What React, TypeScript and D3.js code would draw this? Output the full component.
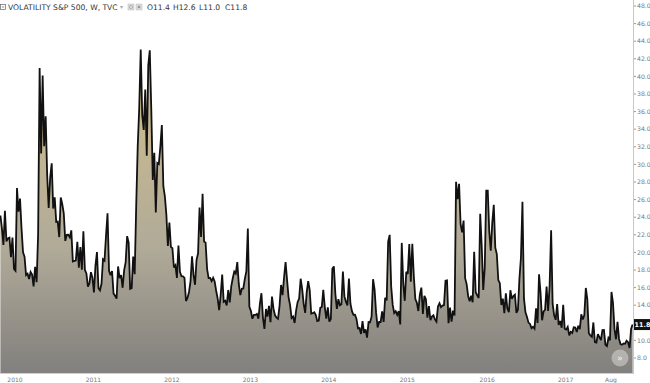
import React from "react";
import * as d3 from "d3";

// Weekly closes of the CBOE Volatility Index
const v2009 = [24.19, 22.73, 20.85, 24.74, 21.25, 21.59, 21.68, 19.47, 21.68];
const v2010 = [18.13, 17.91, 27.31, 24.62, 26.11, 22.73, 20.02, 19.5, 17.42, 17.58, 16.97, 17.77, 17.47, 16.14, 18.36, 16.62, 22.05, 40.95, 31.24, 40.1, 32.07, 35.48, 28.79, 25.05, 28.53, 30.12, 24.98, 26.25, 23.47, 23.5, 21.74, 26.24, 25.49, 24.45, 21.31, 21.99, 22.01, 21.71, 22.5, 18.96, 19.03, 19.08, 21.2, 18.26, 20.61, 18.04, 22.4, 18.01, 17.61, 16.11, 16.47, 17.75];
const v2011 = [17.14, 15.46, 18.47, 20.04, 15.93, 15.69, 16.43, 19.22, 19.06, 21.88, 24.44, 17.91, 17.4, 17.87, 15.32, 15.07, 14.75, 18.4, 17.07, 17.43, 15.98, 17.95, 18.86, 21.85, 21.1, 15.87, 15.95, 19.53, 17.52, 25.25, 32.0, 36.36, 43.05, 35.59, 33.92, 38.52, 30.98, 41.25, 42.96, 36.27, 28.24, 31.32, 24.53, 30.16, 30.04, 32.0, 34.47, 27.52, 26.38, 24.29, 20.73, 23.4];
const v2012 = [20.63, 20.47, 18.28, 18.53, 17.1, 20.79, 17.78, 17.31, 17.29, 17.11, 14.47, 14.82, 15.5, 16.7, 19.55, 17.44, 16.32, 19.16, 19.89, 25.1, 21.76, 26.66, 21.23, 21.11, 18.11, 17.08, 17.1, 16.74, 17.11, 16.7, 15.64, 14.74, 13.45, 15.18, 17.47, 14.38, 14.51, 13.98, 15.73, 14.33, 16.14, 17.06, 17.81, 17.59, 18.9, 16.41, 15.14, 15.87, 15.9, 17.0, 17.84, 22.72];
const v2013 = [13.83, 13.36, 12.46, 12.89, 12.9, 13.02, 12.46, 14.17, 15.36, 12.59, 11.3, 13.57, 12.7, 13.92, 12.06, 14.97, 13.61, 12.85, 12.59, 12.45, 13.92, 16.3, 15.14, 17.15, 18.9, 16.86, 14.89, 14.01, 12.54, 12.72, 11.98, 13.41, 14.37, 14.76, 17.01, 15.85, 14.16, 13.12, 15.46, 16.74, 15.72, 13.04, 13.09, 13.19, 12.9, 12.19, 12.26, 13.7, 13.79, 15.76, 13.79, 12.46];
const v2014 = [13.76, 12.14, 12.44, 18.14, 18.41, 15.29, 13.57, 14.68, 14.0, 14.11, 17.82, 15.0, 14.41, 13.96, 17.03, 14.17, 13.32, 12.91, 12.92, 12.44, 11.36, 11.4, 10.73, 12.18, 10.85, 11.26, 10.32, 12.08, 12.06, 12.69, 16.95, 15.77, 13.15, 11.47, 12.09, 12.09, 13.31, 12.11, 14.85, 14.55, 21.24, 21.99, 16.11, 14.03, 13.12, 13.31, 12.9, 13.33, 11.82, 21.08, 16.49, 14.5];
const v2015 = [17.79, 17.55, 20.95, 16.66, 20.97, 17.29, 14.69, 14.3, 13.34, 15.2, 16.0, 13.02, 15.07, 14.67, 12.58, 13.89, 12.29, 12.7, 12.86, 12.38, 12.13, 13.84, 14.21, 13.78, 13.96, 14.02, 16.79, 16.83, 11.95, 13.74, 12.12, 13.39, 12.83, 28.03, 26.05, 27.8, 23.2, 22.28, 23.62, 17.08, 16.4, 15.05, 14.46, 15.07, 14.33, 20.08, 15.47, 15.12, 14.81, 24.39, 20.7, 15.74, 18.21];
const v2016 = [27.01, 27.02, 22.34, 20.2, 23.38, 25.4, 20.53, 19.81, 16.86, 16.5, 14.02, 14.74, 13.1, 15.36, 13.62, 13.22, 15.7, 14.72, 15.04, 15.2, 13.12, 13.47, 17.03, 19.41, 25.76, 14.77, 13.2, 12.67, 12.02, 11.87, 11.39, 11.55, 11.34, 13.65, 11.98, 17.5, 15.37, 12.29, 13.29, 13.48, 16.12, 13.34, 16.19, 22.51, 14.17, 12.85, 12.34, 14.12, 11.75, 12.2, 11.44, 14.04];
const v2017 = [11.32, 11.23, 11.54, 10.58, 10.97, 10.85, 11.49, 11.47, 10.96, 11.66, 11.28, 12.96, 12.37, 12.87, 15.96, 14.63, 10.82, 10.57, 10.4, 12.04, 9.81, 9.75, 10.7, 10.38, 10.02, 11.18, 11.19, 9.51, 9.36, 10.29, 10.03, 15.51, 14.26, 11.28, 10.13, 12.12, 10.17, 9.59, 9.51, 9.65, 9.61, 9.97, 9.8, 9.14, 11.29, 11.8];

const yearBlocks = [v2009, v2010, v2011, v2012, v2013, v2014, v2015, v2016, v2017];
const yearLabels = ["", "2010", "2011", "2012", "2013", "2014", "2015", "2016", "2017"];
const monthLabel = "Aug";
const monthIndexIn2017 = 30;
const yTicks = d3.range(8, 48.01, 2);
const titleText = "VOLATILITY S&P 500, W, TVC";
const ohlc = [
  { k: "O", v: "11.4" },
  { k: "H", v: "12.6" },
  { k: "L", v: "11.0" },
  { k: "C", v: "11.8" },
];
const lastValue = 11.8;

const W = 650;
const H = 383;
const AXIS_X = 633;
const PLOT_BOTTOM = 373;

export default function App() {
  const values: number[] = ([] as number[]).concat(...yearBlocks);
  const starts: number[] = [];
  let acc = 0;
  yearBlocks.forEach((b) => {
    starts.push(acc);
    acc += b.length;
  });

  const x = d3.scaleLinear().domain([0, values.length - 1]).range([0.4, 632.6]);
  const y = d3.scaleLinear().domain([48, 8]).range([6, 358]);

  const area = d3
    .area<number>()
    .x((_, i) => x(i))
    .y0(PLOT_BOTTOM)
    .y1((d) => y(d));
  const line = d3
    .line<number>()
    .x((_, i) => x(i))
    .y((d) => y(d));

  const fmt = d3.format(".1f");
  const axisFont = "'DejaVu Sans', Verdana, sans-serif";

  const xLabels = yearLabels
    .map((t, k) => ({ t, i: starts[k] }))
    .filter((d) => d.t !== "");
  xLabels.push({ t: monthLabel, i: starts[8] + monthIndexIn2017 });

  // tick labels hidden under the last-value badge
  const visibleTicks = yTicks.filter((t) => Math.abs(y(t) - y(lastValue)) > 8);

  return (
    <svg
      width={W}
      height={H}
      style={{ position: "absolute", left: 0, top: 0, background: "#fff" }}
    >
      <defs>
        <linearGradient id="fillGrad" gradientUnits="userSpaceOnUse" x1="0" y1="45" x2="0" y2={PLOT_BOTTOM}>
          <stop offset="0" stopColor="rgb(212,193,140)" />
          <stop offset="0.62" stopColor="rgb(176,170,152)" />
          <stop offset="1" stopColor="rgb(130,128,126)" />
        </linearGradient>
      </defs>

      <path d={area(values) || ""} fill="url(#fillGrad)" />
      <path
        d={line(values) || ""}
        fill="none"
        stroke="#111"
        strokeWidth={1.8}
        strokeLinejoin="miter"
        strokeMiterlimit={3}
      />

      {/* axes lines */}
      <line x1={0} x2={AXIS_X} y1={PLOT_BOTTOM + 0.5} y2={PLOT_BOTTOM + 0.5} stroke="#cfcfcf" strokeWidth={1} />
      <line x1={AXIS_X + 0.5} x2={AXIS_X + 0.5} y1={0} y2={PLOT_BOTTOM + 1} stroke="#c8c8c8" strokeWidth={1} />

      {/* right axis ticks */}
      {yTicks.map((t) => (
        <line key={"t" + t} x1={AXIS_X + 1} x2={AXIS_X + 3} y1={y(t)} y2={y(t)} stroke="#999" />
      ))}
      {visibleTicks.map((t) => (
        <text key={"l" + t} x={AXIS_X + 4} y={y(t)} dy="0.35em" fontSize={6.2} fontFamily={axisFont} fill="#777">
          {fmt(t)}
        </text>
      ))}

      {/* last value label */}
      <g transform={`translate(${AXIS_X + 1},${y(lastValue)})`}>
        <rect x={0} y={-5.5} width={17} height={11} fill="#111" />
        <text x={8.5} y={0} dy="0.35em" textAnchor="middle" fontSize={6.4} fontWeight="bold" fontFamily={axisFont} fill="#fff">
          {fmt(lastValue)}
        </text>
      </g>

      {/* bottom labels */}
      {xLabels.map((d) => (
        <text
          key={d.t}
          x={x(d.i) + 1}
          y={380}
          dy="0.35em"
          textAnchor="middle"
          fontSize={6}
          fontFamily={axisFont}
          fill="#777"
        >
          {d.t}
        </text>
      ))}

      {/* scroll button */}
      <circle cx={620} cy={358} r={8.5} fill="rgba(215,215,215,0.55)" />
      <text x={620} y={358} dy="0.35em" textAnchor="middle" fontSize={9} fontFamily={axisFont} fill="#f4f4f4">
        »
      </text>

      {/* title */}
      <g fontFamily={axisFont} fontSize={7.6}>
        <rect x={0.5} y={4.5} width={5} height={5} fill="none" stroke="#666" strokeWidth={0.7} />
        <line x1={1.8} x2={4.2} y1={7} y2={7} stroke="#666" strokeWidth={0.7} />
        <text x={8} y={7.3} dy="0.35em" fill="#333">
          {titleText}
        </text>
        <text x={120} y={7.3} dy="0.35em" fill="#aaa" fontSize={6}>
          ▾
        </text>
        <rect x={128} y={4} width={6} height={6} fill="#ddd" stroke="#bbb" strokeWidth={0.5} />
        <circle cx={131} cy={7} r={1.6} fill="none" stroke="#999" strokeWidth={0.6} />
        <rect x={136} y={4} width={6} height={6} fill="#ddd" stroke="#bbb" strokeWidth={0.5} />
        <rect x={137.8} y={5.8} width={2.4} height={2.4} fill="#999" />
        {ohlc.map((o, k) => (
          <text key={o.k} x={147 + k * 26} y={7.3} dy="0.35em" fill="#333">
            {o.k + o.v}
          </text>
        ))}
      </g>
    </svg>
  );
}
